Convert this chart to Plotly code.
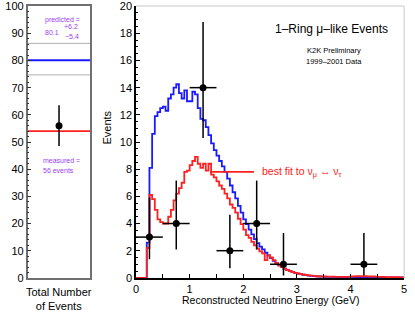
import plotly.graph_objects as go
import numpy as np

# ---------------- data ----------------
bin_width = 0.05  # GeV, histogram bins start at 0.0

blue_nominal = [
    0, 0, 0, 0, 2.6, 8.1, 10.6, 11.9, 12.2, 12.5,
    12.6, 12.3, 13.2, 13.5, 14.0, 14.25, 13.6, 13.2, 13.8, 13.0,
    13.0, 13.7, 13.5, 12.5, 11.7, 11.6, 11.1, 10.5, 9.9, 9.4,
    9.0, 8.6, 8.2, 7.8, 7.3, 6.8, 6.3, 5.85, 5.3, 4.8,
    4.3, 3.95, 3.55, 3.2, 2.85, 2.55, 2.3, 2.1, 1.85, 1.65,
    1.45, 1.25, 1.08, 0.93, 0.8, 0.68, 0.58, 0.5, 0.43, 0.37,
    0.31, 0.27, 0.23, 0.2, 0.17, 0.15, 0.13, 0.11, 0.1, 0.09,
    0.08, 0.08, 0.07, 0.07, 0.07, 0.06, 0.06, 0.06, 0.06, 0.05,
    0.05, 0.05, 0.05, 0.05, 0.05, 0.05, 0.04, 0.04, 0.04, 0.04,
    0.04, 0.04, 0.03, 0.03, 0.03, 0.03, 0.03, 0.03, 0.03, 0.03,
]

red_bestfit = [
    0, 0, 0, 0, 2.2, 6.1, 5.8, 5.0, 4.3, 4.1,
    4.0, 4.0, 4.5, 5.0, 5.7, 6.2, 6.6, 7.0, 7.8, 7.9,
    8.3, 8.6, 8.9, 8.4, 8.1, 8.4, 7.9, 8.4, 7.6, 7.4,
    7.1, 6.8, 6.55, 6.2, 5.85, 5.4, 5.15, 4.8, 4.35, 3.95,
    3.55, 3.15, 2.95, 2.65, 2.4, 2.15, 1.95, 1.8, 1.3, 1.65,
    1.5, 1.3, 1.08, 0.93, 0.8, 0.68, 0.58, 0.5, 0.43, 0.37,
    0.32, 0.28, 0.24, 0.21, 0.18, 0.16, 0.14, 0.12, 0.11, 0.1,
    0.1, 0.09, 0.09, 0.09, 0.08, 0.08, 0.08, 0.08, 0.08, 0.08,
    0.1, 0.11, 0.12, 0.12, 0.12, 0.12, 0.11, 0.1, 0.1, 0.09,
    0.08, 0.07, 0.07, 0.06, 0.06, 0.05, 0.05, 0.05, 0.04, 0.04,
]

data_energy = [0.25, 0.75, 1.25, 1.75, 2.25, 2.75, 4.25]
data_events = [3, 4, 14, 2, 4, 1, 1]
data_err_up = [2.92, 3.16, 4.83, 2.64, 3.16, 2.30, 2.30]
data_err_dn = [1.63, 1.91, 3.70, 1.29, 1.91, 0.83, 0.83]
data_half_width = 0.25

predicted_total = 80.1
predicted_err_up = 6.2
predicted_err_dn = 5.4
measured_total = 56
measured_err = 7.5
bestfit_total = 54.0

label_line_energy = [1.38, 2.2]
label_line_events = [7.8, 7.8]

# tick labels
left_y_ticks = [0, 10, 20, 30, 40, 50, 60, 70, 80, 90, 100]
left_y_minor = [v for v in range(0, 101, 2)]
right_y_ticks = [0, 2, 4, 6, 8, 10, 12, 14, 16, 18, 20]
right_y_minor = [v * 0.5 for v in range(0, 41)]
right_x_ticks = [0, 1, 2, 3, 4, 5]
right_x_minor = [v * 0.5 for v in range(0, 11)]

# ---------------- styling ----------------
FONT = "Liberation Sans, Arial, Helvetica, sans-serif"
BLUE = "#1a1aff"
RED = "#ff2020"
PURPLE = "#9a3cf5"

fig = go.Figure()

# ---- left panel: totals ----
fig.add_trace(go.Scatter(x=[0, 1], y=[predicted_total + predicted_err_up] * 2, mode="lines",
                         line=dict(color="#b0b0b0", width=1), xaxis="x", yaxis="y"))
fig.add_trace(go.Scatter(x=[0, 1], y=[predicted_total - predicted_err_dn] * 2, mode="lines",
                         line=dict(color="#b0b0b0", width=1), xaxis="x", yaxis="y"))
fig.add_trace(go.Scatter(x=[0, 1], y=[predicted_total] * 2, mode="lines",
                         line=dict(color=BLUE, width=2), xaxis="x", yaxis="y"))
fig.add_trace(go.Scatter(x=[0, 1], y=[bestfit_total] * 2, mode="lines",
                         line=dict(color=RED, width=1.6), xaxis="x", yaxis="y"))
fig.add_trace(go.Scatter(x=[0.5], y=[measured_total], mode="markers",
                         marker=dict(color="black", size=7),
                         error_y=dict(type="data", array=[measured_err], width=0,
                                      thickness=1.5, color="black"),
                         xaxis="x", yaxis="y"))

# ---- right panel: spectra ----
n_bins = len(blue_nominal)
edges = list(np.arange(n_bins + 1) * bin_width)
fig.add_trace(go.Scatter(x=edges, y=blue_nominal + [blue_nominal[-1]], mode="lines",
                         line=dict(color=BLUE, width=1.8, shape="hv"),
                         xaxis="x2", yaxis="y2"))
fig.add_trace(go.Scatter(x=edges, y=red_bestfit + [red_bestfit[-1]], mode="lines",
                         line=dict(color=RED, width=1.8, shape="hv"),
                         xaxis="x2", yaxis="y2"))
fig.add_trace(go.Scatter(x=label_line_energy, y=label_line_events, mode="lines",
                         line=dict(color=RED, width=1.8), xaxis="x2", yaxis="y2"))
fig.add_trace(go.Scatter(x=data_energy, y=data_events, mode="markers",
                         marker=dict(color="black", size=7),
                         error_y=dict(type="data", symmetric=False, array=data_err_up,
                                      arrayminus=data_err_dn, width=0, thickness=1.5,
                                      color="black"),
                         error_x=dict(type="constant", value=data_half_width, width=0,
                                      thickness=1.5, color="black"),
                         xaxis="x2", yaxis="y2"))

W, H = 415, 312
fig.update_layout(
    width=W, height=H,
    margin=dict(l=0, r=0, t=6, b=34),
    paper_bgcolor="white", plot_bgcolor="white",
    showlegend=False,
    font=dict(family=FONT, size=11, color="black"),
    xaxis=dict(domain=[25 / W, 88.7 / W], range=[0, 1], showticklabels=False,
               showgrid=False, zeroline=False, showline=True, mirror=True,
               linecolor="#707070", linewidth=1.5, ticks="", fixedrange=True),
    yaxis=dict(domain=[0, 1], range=[-0.05, 100.05], tickmode="array",
               tickvals=left_y_ticks, ticktext=[str(v) for v in left_y_ticks],
               ticklabeloverflow="allow",
               showgrid=False, zeroline=False,
               showline=True, mirror=True, linecolor="#707070", linewidth=1.5,
               ticks="inside", ticklen=4, tickcolor="#333", tickwidth=1,
               minor=dict(tickmode="array", tickvals=left_y_minor, ticks="inside",
                          ticklen=2, tickcolor="#333"),
               tickfont=dict(size=11), anchor="x"),
    xaxis2=dict(domain=[135 / W, 407 / W], range=[0, 5], tickmode="array",
                tickvals=right_x_ticks, ticktext=[str(v) for v in right_x_ticks],
                ticklabeloverflow="allow",
                showgrid=False,
                zeroline=False, showline=True, linecolor="black", linewidth=1.5,
                ticks="inside", ticklen=4, tickcolor="black",
                minor=dict(tickmode="array", tickvals=right_x_minor, ticks="inside",
                           ticklen=4, tickcolor="black"),
                tickfont=dict(size=11), anchor="y2"),
    yaxis2=dict(domain=[0, 1], range=[-0.01, 20.01], tickmode="array",
                tickvals=right_y_ticks, ticktext=[str(v) for v in right_y_ticks],
                ticklabeloverflow="allow",
                showgrid=False, zeroline=False,
                showline=True, linecolor="black", linewidth=1.5,
                ticks="inside", ticklen=4, tickcolor="black",
                minor=dict(tickmode="array", tickvals=right_y_minor, ticks="inside",
                           ticklen=2, tickcolor="black"),
                tickfont=dict(size=11), anchor="x2"),
    shapes=[
        dict(type="line", xref="x2 domain", yref="y2 domain", x0=0, x1=1, y0=1, y1=1,
             line=dict(color="#c8c8c8", width=1)),
        dict(type="line", xref="x2 domain", yref="y2 domain", x0=1, x1=1, y0=0, y1=1,
             line=dict(color="#c8c8c8", width=1)),
    ],
)

ann = []
# left panel texts
ann.append(dict(x=0.24, y=94.8, xref="x", yref="y", text="predicted =", showarrow=False,
                xanchor="left", yanchor="middle", font=dict(size=7, color=PURPLE)))
ann.append(dict(x=0.24, y=90.3, xref="x", yref="y", text=f"{predicted_total}", showarrow=False,
                xanchor="left", yanchor="middle", font=dict(size=7, color=PURPLE)))
ann.append(dict(x=0.55, y=92.5, xref="x", yref="y", text=f"+{predicted_err_up}", showarrow=False,
                xanchor="left", yanchor="middle", font=dict(size=7, color=PURPLE)))
ann.append(dict(x=0.56, y=88.7, xref="x", yref="y", text=f"\u2212{predicted_err_dn}", showarrow=False,
                xanchor="left", yanchor="middle", font=dict(size=7, color=PURPLE)))
ann.append(dict(x=0.22, y=43.3, xref="x", yref="y", text="measured =", showarrow=False,
                xanchor="left", yanchor="middle", font=dict(size=7, color=PURPLE)))
ann.append(dict(x=0.22, y=39.6, xref="x", yref="y", text=f"{measured_total} events", showarrow=False,
                xanchor="left", yanchor="middle", font=dict(size=7, color=PURPLE)))
ann.append(dict(x=57 / W, y=-0.078, xref="paper", yref="paper",
                text="Total Number<br>of Events", showarrow=False,
                xanchor="center", yanchor="middle", font=dict(size=11)))
# right panel texts
ann.append(dict(x=3.64, y=18.3, xref="x2", yref="y2", text="1\u2013Ring \u03bc\u2013like Events",
                showarrow=False, xanchor="center", yanchor="middle", font=dict(size=12)))
ann.append(dict(x=3.69, y=16.76, xref="x2", yref="y2", text="K2K Preliminary",
                showarrow=False, xanchor="center", yanchor="middle", font=dict(size=7.5)))
ann.append(dict(x=3.69, y=15.95, xref="x2", yref="y2", text="1999\u20132001 Data",
                showarrow=False, xanchor="center", yanchor="middle", font=dict(size=7.5)))
ann.append(dict(x=2.31, y=7.8, xref="x2", yref="y2",
                text="best fit to \u03bd<sub>\u03bc</sub> \u2194 \u03bd<sub>\u03c4</sub>",
                showarrow=False, xanchor="left", yanchor="middle",
                font=dict(size=10.5, color=RED)))
ann.append(dict(x=271 / W, y=-0.08, xref="paper", yref="paper",
                text="Reconstructed Neutrino Energy (GeV)", showarrow=False,
                xanchor="center", yanchor="middle", font=dict(size=10.5)))
ann.append(dict(x=106 / W, y=0.555, xref="paper", yref="paper", text="Events",
                showarrow=False, textangle=-90, xanchor="center", yanchor="middle",
                font=dict(size=11)))
fig.update_layout(annotations=ann)

fig.write_html("out.html", config={"displayModeBar": False},
               post_script="document.body.style.margin='0';document.body.style.overflow='hidden';")
